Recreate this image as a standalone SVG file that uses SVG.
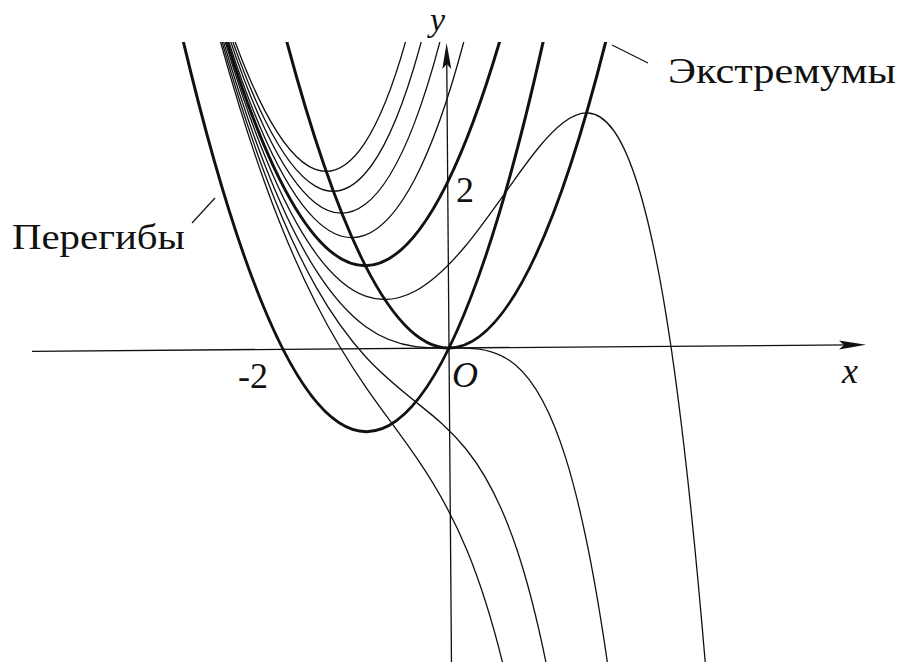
<svg xmlns="http://www.w3.org/2000/svg" width="902" height="662" viewBox="0 0 902 662">
<defs>
<style>
.thin{fill:none;stroke:#111;stroke-width:1.3;vector-effect:non-scaling-stroke;stroke-linecap:round}
.thick{fill:none;stroke:#111;stroke-width:3;vector-effect:non-scaling-stroke}
.axis{fill:none;stroke:#111;stroke-width:1.3}
.head{fill:#111;stroke:none}
.lead{fill:none;stroke:#111;stroke-width:1.2}
text{font-family:"Liberation Serif","Times New Roman","DejaVu Serif",Georgia,serif;font-size:36px;fill:#111}
.it{font-style:italic}
</style>
<clipPath id="plot"><rect x="0" y="42" width="902" height="620"/></clipPath>
</defs>
<rect width="902" height="662" fill="#fff"/>
<g id="axes" transform="rotate(-0.45 449 348)">
<line class="axis" x1="32" y1="348" x2="850" y2="348"/>
<polygon class="head" points="866,348 839,343.5 844,348 839,352.5"/>
<line class="axis" x1="449" y1="60" x2="449" y2="670"/>
<polygon class="head" points="449,43 444.5,69 449,64 453.5,69"/>
</g>
<g id="curves" clip-path="url(#plot)">
<g transform="translate(449 348) rotate(-0.45) scale(83 -83)">
<path id="extrema" class="thick" d="M-2 4 Q0 -4 2 4"/>
<path id="inflections" class="thick" d="M-3.2 3.84 Q-1 -5.84 1.2 3.84"/>
<path id="c0" class="thick" d="M-2.7 3.89 Q-1 -1.89 0.7 3.89"/>
<path id="c1" class="thin" d="M-2.8 4.3008 C-2.6 3.593 -2.4 3.0086 -2.2 2.5508 C-2 2.093 -1.8 1.7615 -1.6 1.5619 C-1.4 1.3623 -1.2 1.2943 -1 1.3679 C-0.8 1.4415 -0.6 1.6562 -0.4 2.0303 C-0.2 2.4044 0 2.9371 0.2 3.6614 C0.4 4.3857 0.6 5.3004 0.8 6.4655"/>
<path id="c2" class="thin" d="M-2.8 4.3616 C-2.6 3.6659 -2.4 3.0973 -2.2 2.6616 C-2 2.2259 -1.8 1.923 -1.6 1.7638 C-1.4 1.6046 -1.2 1.5886 -1 1.7358 C-0.8 1.883 -0.6 2.1925 -0.4 2.7006 C-0.2 3.2087 0 3.9142 0.2 4.8828"/>
<path id="c3" class="thin" d="M-2.8 4.4224 C-2.6 3.7389 -2.4 3.1859 -2.2 2.7724 C-2 2.3589 -1.8 2.0846 -1.6 1.9657 C-1.4 1.8468 -1.2 1.883 -1 2.1037 C-0.8 2.3244 -0.6 2.7287 -0.4 3.3709 C-0.2 4.0131 0 4.8914 0.2 6.1042"/>
<path id="c4" class="thin" d="M-2.8 4.4832 C-2.6 3.8118 -2.4 3.2746 -2.2 2.8832 C-2 2.4918 -1.8 2.2461 -1.6 2.1676 C-1.4 2.0891 -1.2 2.1773 -1 2.4716 C-0.8 2.7659 -0.6 3.265 -0.4 4.0412"/>
<path id="cm1" class="thin" d="M-2.8 4.1792 C-2.6 3.447 -2.4 2.8314 -2.2 2.3292 C-2 1.827 -1.8 1.4385 -1.6 1.1581 C-1.4 0.8777 -1.2 0.7057 -1 0.6321 C-0.8 0.5585 -0.6 0.5838 -0.4 0.6897 C-0.2 0.7956 0 0.9829 0.2 1.2186 C0.4 1.4543 0.6 1.7396 0.8 2.0145 C1 2.2894 1.2 2.5558 1.4 2.7048 C1.6 2.8538 1.8 2.8887 2 2.6109 C2.2 2.3331 2.4 1.749 2.6 0.4963 C2.8 -0.7564 3 -2.666 3.2 -5.8925"/>
<path id="cm2" class="thin" d="M-2.8 4.1184 C-2.6 3.3741 -2.4 2.7427 -2.2 2.2184 C-2 1.6941 -1.8 1.277 -1.6 0.9562 C-1.4 0.6354 -1.2 0.4114 -1 0.2642 C-0.8 0.117 -0.6 0.0475 -0.4 0.0194 C-0.2 -0.0087 0 0.0058 0.2 -0.0028 C0.4 -0.0114 0.6 -0.0408 0.8 -0.211 C1 -0.3812 1.2 -0.6883 1.4 -1.3504 C1.6 -2.0125 1.8 -3.0226 2 -4.7782"/>
<path id="cm3" class="thin" d="M-2.8 4.0576 C-2.6 3.3011 -2.4 2.6541 -2.2 2.1076 C-2 1.5611 -1.8 1.1154 -1.6 0.7543 C-1.4 0.3932 -1.2 0.117 -1 -0.1037 C-0.8 -0.3244 -0.6 -0.4887 -0.4 -0.6509 C-0.2 -0.8131 0 -0.9714 0.2 -1.2242 C0.4 -1.477 0.6 -1.8212 0.8 -2.4365 C1 -3.0518 1.2 -3.9325 1.4 -5.4056"/>
<path id="cm4" class="thin" d="M-2.8 3.9968 C-2.6 3.2282 -2.4 2.5654 -2.2 1.9968 C-2 1.4282 -1.8 0.9539 -1.6 0.5524 C-1.4 0.1509 -1.2 -0.1773 -1 -0.4716 C-0.8 -0.7659 -0.6 -1.025 -0.4 -1.3212 C-0.2 -1.6174 0 -1.9485 0.2 -2.4456 C0.4 -2.9427 0.6 -3.6016 0.8 -4.662"/>
</g>
</g>
<g id="connectors">
<line class="lead" x1="192" y1="223" x2="215" y2="198"/>
<line class="lead" x1="612" y1="45" x2="648" y2="63"/>
</g>
<g id="labels">
<text id="lbl-y" class="it" x="430" y="31" style="font-size:34px">y</text>
<text id="lbl-x" class="it" x="842" y="383">x</text>
<text id="lbl-O" class="it" x="452" y="387">O</text>
<text id="lbl-2" x="456" y="202">2</text>
<text id="lbl-m2" x="238" y="388">-2</text>
<text id="lbl-inflect" x="12" y="249" textLength="173" lengthAdjust="spacingAndGlyphs">Перегибы</text>
<text id="lbl-extrema" x="668" y="83" textLength="228" lengthAdjust="spacingAndGlyphs">Экстремумы</text>
</g>
</svg>
